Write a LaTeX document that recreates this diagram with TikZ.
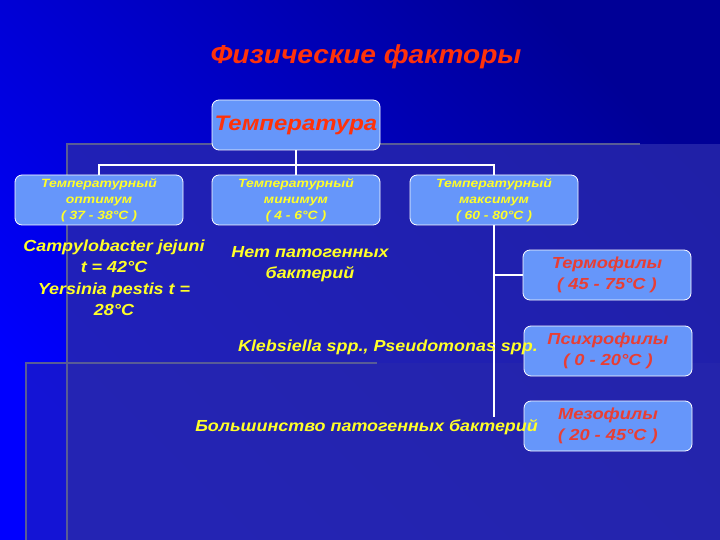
\documentclass[tikz,border=0pt]{standalone}
\usepackage{fontspec}
\setmainfont{Liberation Sans}
\newfontfamily\stretchA{Liberation Sans}[FakeStretch=1.08]
\newfontfamily\stretchB{Liberation Sans}[FakeStretch=1.14]
\newfontfamily\stretchC{Liberation Sans}[FakeStretch=1.16]
\newfontfamily\stretchD{Liberation Sans}[FakeStretch=1.12]
\definecolor{boxfill}{RGB}{102,150,250}
\definecolor{ttred}{RGB}{255,50,10}
\definecolor{boxred}{RGB}{232,62,52}
\definecolor{yel}{RGB}{255,255,40}
\definecolor{panelc}{RGB}{40,40,172}
\definecolor{edgec}{RGB}{88,92,150}
\definecolor{bgbright}{RGB}{0,0,255}
\definecolor{bgdark}{RGB}{0,0,150}
\begin{document}
\begin{tikzpicture}[x=1pt,y=-1pt,
  box/.style={draw=white, line width=0.8pt, fill=boxfill, rounded corners=7pt,
    minimum width=168pt, minimum height=50pt, inner sep=0pt, align=center},
  smallbox/.style={box, text=yel, font=\stretchC\bfseries\itshape\fontsize{12}{16}\selectfont},
  redbox/.style={box, text=boxred, font=\stretchB\bfseries\itshape\fontsize{16}{20.5}\selectfont},
  conn/.style={draw=white, line width=1.6pt},
  ytext/.style={text=yel, font=\stretchD\bfseries\itshape\fontsize{16}{21.5}\selectfont, align=center, inner sep=0pt},
  edge line/.style={draw=edgec, line width=2pt}
]
\useasboundingbox (0,0) rectangle (720,540);
% background
\shade[bottom color=bgbright, top color=bgdark, shading angle=-45]
  (0,0) rectangle (720,540);
\fill[panelc, opacity=0.8] (67,144) rectangle (720,540);
\fill[panelc, opacity=0.5] (26,363) rectangle (720,540);
\draw[edge line] (67,540) -- (67,144) -- (640,144);
\draw[edge line] (26,540) -- (26,363) -- (377,363);

% title
\node[text=ttred, font=\stretchA\bfseries\itshape\fontsize{26}{30}\selectfont] (title) at (366,57) {Физические факторы};

% boxes
\node[box, text=ttred, font=\stretchB\bfseries\itshape\fontsize{21}{25}\selectfont] (temp) at (296,125) {Температура};
\node[smallbox] (opt) at (99,200) {Температурный\\оптимум\\( 37 - 38°C )};
\node[smallbox] (min) at (296,200) {Температурный\\минимум\\( 4 - 6°C )};
\node[smallbox] (max) at (494,200) {Температурный\\максимум\\( 60 - 80°C )};
\node[redbox] (thermo) at (607,275) {Термофилы\\( 45 - 75°C )};
\node[redbox] (psych) at (608,351) {Психрофилы\\( 0 - 20°C )};
\node[redbox] (meso) at (608,426) {Мезофилы\\( 20 - 45°C )};

% connectors
\coordinate (bus) at (296,165);
\coordinate (vend) at (494,417);
\draw[conn] (temp.south) -- (bus);
\draw[conn] (opt.north) |- (bus) -| (max.north);
\draw[conn] (bus) -- (min.north);
\draw[conn] (max.south) -- (vend);
\draw[conn] (max.south |- thermo.west) -- (thermo.west);

% texts
\node[ytext] (campy) at (114,278) {Campylobacter jejuni\\t = 42°C\\Yersinia pestis t =\\28°C};
\node[ytext] (net) at (310,264) {Нет патогенных\\бактерий};
\node[ytext, anchor=east] (kleb) at (538,347) {Klebsiella spp., Pseudomonas spp.};
\node[ytext, anchor=east] (most) at (538,427) {Большинство патогенных бактерий};
\end{tikzpicture}
\end{document}
